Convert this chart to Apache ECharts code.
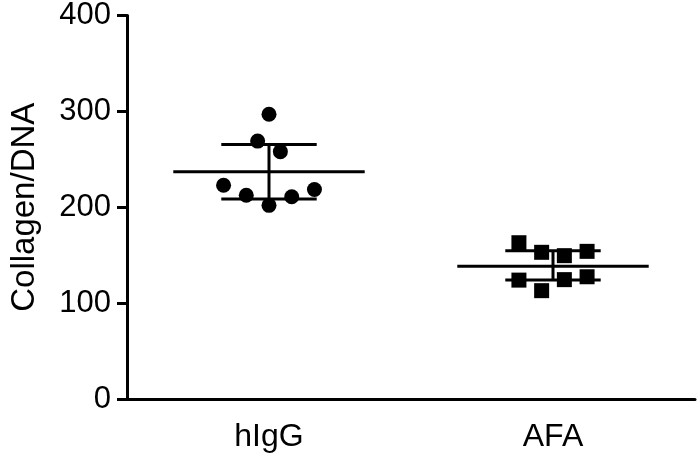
<!DOCTYPE html>
<html>
<head>
<meta charset="utf-8">
<script src="https://cdn.jsdelivr.net/npm/echarts@6/dist/echarts.min.js"></script>
<style>
  html, body { margin: 0; padding: 0; background: #fff; }
  #chart { width: 700px; height: 459px; }
</style>
</head>
<body>
<div id="chart"></div>
<script>
// groups
var groups = ['hIgG', 'AFA']
var groupPos = [0.5, 1.5]

// individual points [x position, value]
var hIgGPoints = [
  [0.50, 297], [0.46, 269], [0.54, 258], [0.34, 223],
  [0.42, 212.5], [0.50, 202], [0.58, 211], [0.66, 218.5]
]
var afaPoints = [
  [1.38, 163], [1.46, 153], [1.54, 149.5], [1.62, 154],
  [1.38, 124], [1.46, 113], [1.54, 124.5], [1.62, 127.5]
]

// mean and SD bars
var means = [237, 138.5]
var sdUpper = [265.5, 154.5]
var sdLower = [208.5, 124]

var yTicks = [0, 100, 200, 300, 400]

var chart = echarts.init(document.getElementById('chart'))

var font = 'Liberation Sans, Arial, Helvetica, sans-serif'

var barData = groupPos.map(function (p, i) {
  return [p, means[i], sdUpper[i], sdLower[i]]
})

function renderBars(params, api) {
  var x = api.value(0)
  var mean = api.coord([x, api.value(1)])
  var hi = api.coord([x, api.value(2)])
  var lo = api.coord([x, api.value(3)])
  var meanL = api.coord([x - 0.337, api.value(1)])
  var meanR = api.coord([x + 0.337, api.value(1)])
  var capW = api.size([0.168, 0])[0]
  var style = { stroke: '#000', lineWidth: 3 }
  return {
    type: 'group',
    children: [
      { type: 'line', shape: { x1: meanL[0], y1: mean[1], x2: meanR[0], y2: mean[1] }, style: style },
      { type: 'line', shape: { x1: hi[0], y1: hi[1], x2: lo[0], y2: lo[1] }, style: style },
      { type: 'line', shape: { x1: hi[0] - capW, y1: hi[1], x2: hi[0] + capW, y2: hi[1] }, style: style },
      { type: 'line', shape: { x1: lo[0] - capW, y1: lo[1], x2: lo[0] + capW, y2: lo[1] }, style: style }
    ]
  }
}

chart.setOption({
  animation: false,
  backgroundColor: '#fff',
  grid: {
    left: 125,
    right: 5,
    top: 15,
    bottom: 60
  },
  xAxis: [
    {
      type: 'value',
      min: 0,
      max: 2,
      show: false
    },
    {
      type: 'category',
      data: groups,
      position: 'bottom',
      boundaryGap: true,
      axisLine: { lineStyle: { color: '#000', width: 3 } },
      axisTick: { alignWithLabel: true, length: 8, lineStyle: { color: '#000', width: 3 } },
      axisLabel: { color: '#000', fontSize: 32, fontFamily: font, margin: 22 },
      splitLine: { show: false }
    }
  ],
  yAxis: {
    type: 'value',
    min: yTicks[0],
    max: yTicks[yTicks.length - 1],
    interval: 100,
    name: 'Collagen/DNA',
    nameLocation: 'middle',
    nameGap: 86,
    nameTextStyle: { color: '#000', fontSize: 33, fontFamily: font },
    axisLine: { show: true, lineStyle: { color: '#000', width: 3 } },
    axisTick: { show: true, length: 10, lineStyle: { color: '#000', width: 3 } },
    axisLabel: { color: '#000', fontSize: 31, fontFamily: font, margin: 16 },
    splitLine: { show: false }
  },
  series: [
    {
      type: 'custom',
      xAxisIndex: 0,
      renderItem: renderBars,
      data: barData,
      z: 3
    },
    {
      name: 'hIgG',
      type: 'scatter',
      xAxisIndex: 0,
      symbol: 'circle',
      symbolSize: 15,
      itemStyle: { color: '#000', opacity: 1 },
      data: hIgGPoints,
      z: 4
    },
    {
      name: 'AFA',
      type: 'scatter',
      xAxisIndex: 0,
      symbol: 'rect',
      symbolSize: 15,
      itemStyle: { color: '#000', opacity: 1 },
      data: afaPoints,
      z: 4
    }
  ]
})
</script>
</body>
</html>
